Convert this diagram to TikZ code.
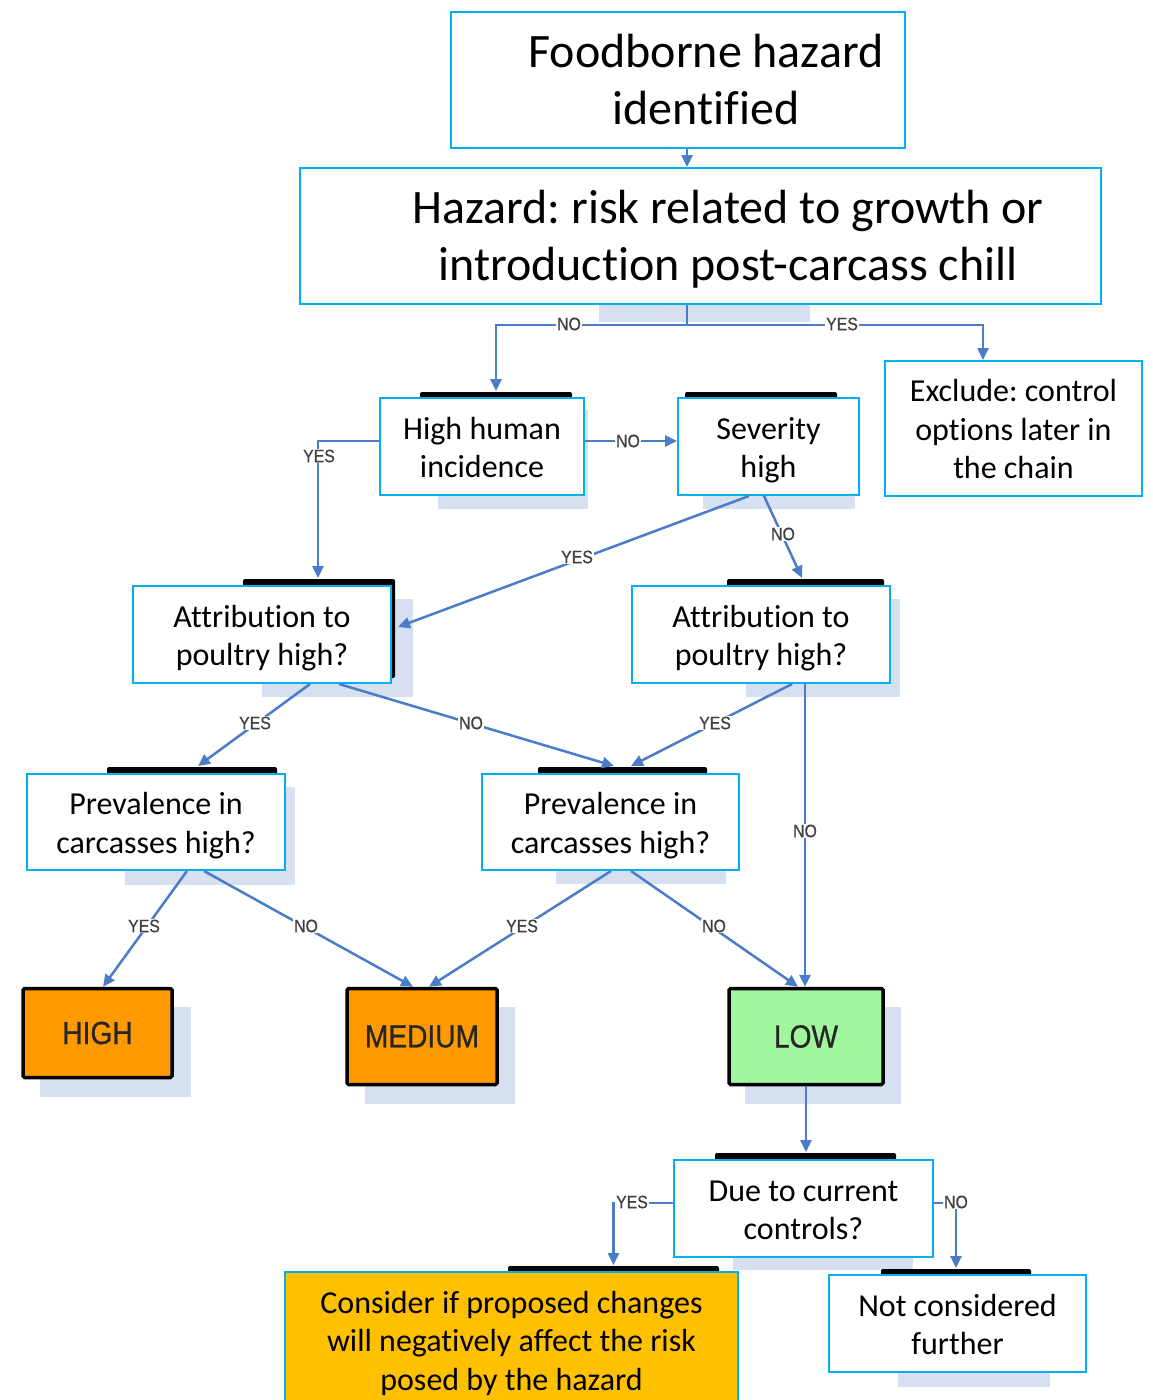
\documentclass[tikz,border=0pt]{standalone}
\usepackage{fontspec}
\setmainfont{Carlito}[Ligatures=NoCommon]
\newfontfamily\lblfont[FakeStretch=0.88,FakeBold=0.6]{Liberation Sans}
\newfontfamily\lvlfont[FakeStretch=0.88,FakeBold=0.8]{Liberation Sans}
\usetikzlibrary{arrows.meta,calc}
\definecolor{boxline}{HTML}{00B0F0}
\definecolor{flow}{RGB}{74,124,200}
\definecolor{ghost}{RGB}{214,224,240}
\definecolor{lbltext}{HTML}{404040}
\definecolor{riskorange}{HTML}{FF9900}
\definecolor{risklow}{RGB}{162,246,158}
\definecolor{actionfill}{HTML}{FFC000}
\frenchspacing
% invisible rules that fix the height of the first and the depth of the last line
\newcommand\qtop{\rule{0pt}{32.5pt}}
\newcommand\qbot{\rule[-9pt]{0pt}{9pt}}
\newcommand\btop{\rule{0pt}{44pt}}
\newcommand\bbot{\rule[-12pt]{0pt}{12pt}}
\begin{document}
\begin{tikzpicture}[x=1pt,y=-1pt,
  qbox/.style={draw=boxline, line width=2pt, fill=white, inner sep=0pt, align=center,
    font=\fontsize{32}{38.5}\selectfont},
  bigbox/.style={draw=boxline, line width=2pt, fill=white, inner sep=0pt},
  bigtext/.style={align=center, inner sep=0pt, font=\fontsize{48}{57}\selectfont},
  level/.style={draw=black, line width=3.5pt, rounded corners=1.5pt, inner sep=0pt,
    text=black!85, font=\lvlfont\fontsize{32}{36}\selectfont},
  conn/.style={draw=flow, line width=2.5pt, -{Triangle[length=12pt,width=11pt]}},
  lbl/.style={fill=white, inner sep=1pt, text=lbltext, font=\lblfont\fontsize{18}{18}\selectfont},
  shade/.style={fill=ghost},
  bar/.style={fill=black, rounded corners=2pt},
]
\useasboundingbox (0,0) rectangle (1153,1400);
\clip (0,0) rectangle (1153,1400);

% soft drop shadows
\fill[shade] (599,300) rectangle (810,322);
\fill[shade] (438,410) rectangle (588,509);
\fill[shade] (703,410) rectangle (855,509);
\fill[shade] (262,599) rectangle (413,697);
\fill[shade] (746,599) rectangle (900,697);
\fill[shade] (125,787) rectangle (295,885);
\fill[shade] (556,787) rectangle (726,884);
\fill[shade] (40,1007) rectangle (191,1097);
\fill[shade] (365,1007) rectangle (515,1104);
\fill[shade] (745,1007) rectangle (901,1104);
\fill[shade] (733,1175) rectangle (913,1270);
\fill[shade] (898,1290) rectangle (1050,1387);

% dark frames peeking out behind the question boxes
\fill[bar] (420,392) rectangle (572,440);
\fill[bar] (685,392) rectangle (837,440);
\fill[bar] (243,579) rectangle (395,678);
\fill[bar] (727,579) rectangle (884,630);
\fill[bar] (107,767) rectangle (277,800);
\fill[bar] (538,767) rectangle (707,800);
\fill[bar] (715,1153) rectangle (896,1190);
\fill[bar] (508,1266) rectangle (719,1300);
\fill[bar] (881,1269) rectangle (1031,1300);

% boxes
\node[bigbox, minimum width=454pt, minimum height=136pt] (food) at (678,80) {};
\node[bigtext] (foodtxt) at (706,80) {\btop Foodborne hazard\\identified\bbot};
\node[bigbox, minimum width=801pt, minimum height=136pt] (haz) at (700.5,236) {};
\node[bigtext] (haztxt) at (728,236) {\btop Hazard: risk related to growth or\\introduction post-carcass chill\bbot};

\node[qbox, minimum width=204pt, minimum height=97pt] (hhi) at (482,446.5) {\qtop High human\\incidence\qbot};
\node[qbox, minimum width=181pt, minimum height=97pt] (sev) at (768.5,446.5) {\qtop Severity\\high\qbot};
\node[qbox, minimum width=257pt, minimum height=135pt] (excl) at (1013.5,428.5) {\qtop Exclude: control\\options later in\\the chain\qbot};
\node[qbox, minimum width=258pt, minimum height=97pt] (attL) at (262,634.5) {\qtop Attribution to\\poultry high?\qbot};
\node[qbox, minimum width=258pt, minimum height=97pt] (attR) at (761,634.5) {\qtop Attribution to\\poultry high?\qbot};
\node[qbox, minimum width=258pt, minimum height=96pt] (prevL) at (156,822) {\qtop Prevalence in\\carcasses high?\qbot};
\node[qbox, minimum width=257pt, minimum height=96pt] (prevM) at (610.5,822) {\qtop Prevalence in\\carcasses high?\qbot};

\node[level, fill=riskorange, minimum width=149pt, minimum height=89pt] (high) at (97.5,1033) {HIGH};
\node[level, fill=riskorange, minimum width=150pt, minimum height=96pt] (med) at (422,1036.5) {MEDIUM};
\node[level, fill=risklow, minimum width=154pt, minimum height=96pt] (low) at (806,1036.5) {LOW};

\node[qbox, minimum width=259pt, minimum height=97pt] (due) at (803.5,1208.5) {\qtop Due to current\\controls?\qbot};
\node[qbox, fill=actionfill, minimum width=453pt, minimum height=136pt] (cons) at (511.5,1340) {\qtop Consider if proposed changes\\will negatively affect the risk\\posed by the hazard\qbot};
\node[qbox, minimum width=257pt, minimum height=97pt] (notc) at (957.5,1323.5) {\qtop Not considered\\further\qbot};

% connectors
\draw[conn] ([xshift=9pt]food.south) -- ([xshift=9pt]food.south |- haz.north);
\draw[conn] ([xshift=-13.5pt]haz.south) -- ++(0,20) -| ([xshift=14pt,yshift=6pt]hhi.north);
\draw[conn] ([xshift=-13.5pt]haz.south) -- ++(0,20) -| ([xshift=-30.5pt]excl.north);
\draw[conn] ([yshift=5.5pt]hhi.east) -- ([yshift=5.5pt]hhi.east -| sev.west);
\draw[conn] ([yshift=5.5pt]hhi.west) -| ([xshift=56pt,yshift=7pt]attL.north);
\draw[conn] ([xshift=-19.5pt]sev.south) -- ([xshift=6pt,yshift=7.5pt]attL.east);
\draw[conn] ([xshift=-4.5pt]sev.south) -- ([xshift=41pt,yshift=7pt]attR.north);
\draw[conn] ([xshift=48pt]attL.south) -- ([xshift=42pt,yshift=7pt]prevL.north);
\draw[conn] ([xshift=77pt]attL.south) -- ([xshift=3.5pt,yshift=7pt]prevM.north);
\draw[conn] ([xshift=31pt]attR.south) -- ([xshift=20.5pt,yshift=7pt]prevM.north);
\draw[conn] ([xshift=44pt]attR.south) -- ([xshift=44pt]attR.south |- low.north);
\draw[conn] ([xshift=31pt]prevL.south) -- ([xshift=5.5pt]high.north);
\draw[conn] ([xshift=48pt]prevL.south) -- ([xshift=-9pt]med.north);
\draw[conn] ([xshift=0.5pt]prevM.south) -- ([xshift=7pt]med.north);
\draw[conn] ([xshift=20.5pt]prevM.south) -- ([xshift=-8pt]low.north);
\draw[conn] (low.south) -- ([yshift=7pt]low.south |- due.north);
\draw[conn] ([yshift=5.5pt]due.west) -| ([xshift=102pt,yshift=6pt]cons.north);
\draw[conn] ([yshift=5.5pt]due.east) -| ([xshift=-1.5pt,yshift=6pt]notc.north);

% branch labels
\node[lbl] (n1) at (569,324) {NO};
\node[lbl] (y1) at (842,324) {YES};
\node[lbl] (y2) at (319,456) {YES};
\node[lbl] (n2) at (628,441) {NO};
\node[lbl] (y3) at (577,557) {YES};
\node[lbl] (n3) at (783,534) {NO};
\node[lbl] (y4) at (255,723) {YES};
\node[lbl] (n4) at (471,723) {NO};
\node[lbl] (y5) at (715,723) {YES};
\node[lbl] (n5) at (805,831) {NO};
\node[lbl] (y6) at (144,926) {YES};
\node[lbl] (n6) at (306,926) {NO};
\node[lbl] (y7) at (522,926) {YES};
\node[lbl] (n7) at (714,926) {NO};
\node[lbl] (y8) at (632,1202) {YES};
\node[lbl] (n8) at (956,1202) {NO};
\end{tikzpicture}
\end{document}
